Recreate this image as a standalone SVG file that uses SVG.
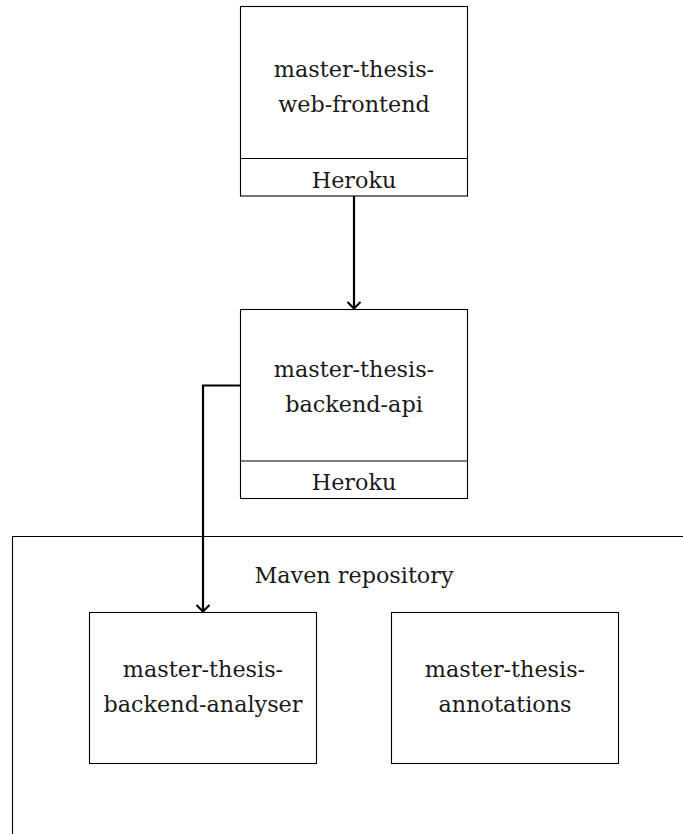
<svg xmlns="http://www.w3.org/2000/svg" width="683" height="834" viewBox="0 0 683 834">
<defs>
<style>
.box{fill:#fff;stroke:#000;stroke-width:1.1}
.t{font-family:"DejaVu Serif","Liberation Serif",serif;font-size:22.3px;fill:#1a1a1a;text-anchor:middle}
.conn{fill:none;stroke:#000;stroke-width:2.2}
</style>
<marker id="ah" markerUnits="userSpaceOnUse" markerWidth="18" markerHeight="18" refX="9" refY="9" orient="auto" viewBox="0 0 18 18">
<path d="M2.5,2.5 Q7,7 9,9 Q7,11 2.5,15.5" fill="none" stroke="#000" stroke-width="2.1"/>
</marker>
</defs>
<g id="maven-repository">
<path class="box" d="M700,536.5 H12.5 V850"/>
<text class="t" x="354" y="583">Maven repository</text>
</g>
<g id="web-frontend">
<rect class="box" x="240.5" y="6.5" width="227" height="189.5"/>
<line class="box" x1="240.5" y1="158.5" x2="467.5" y2="158.5"/>
<text class="t" x="354" y="76.7">master-thesis-</text>
<text class="t" x="354" y="111.7">web-frontend</text>
<text class="t" x="354" y="188">Heroku</text>
</g>
<g id="backend-api">
<rect class="box" x="240.5" y="309.5" width="227" height="189"/>
<line class="box" x1="240.5" y1="461" x2="467.5" y2="461"/>
<text class="t" x="354" y="377">master-thesis-</text>
<text class="t" x="354" y="412">backend-api</text>
<text class="t" x="354" y="490">Heroku</text>
</g>
<g id="backend-analyser">
<rect class="box" x="89.5" y="612.5" width="227" height="151"/>
<text class="t" x="203" y="677">master-thesis-</text>
<text class="t" x="203" y="712">backend-analyser</text>
</g>
<g id="annotations">
<rect class="box" x="391.5" y="612.5" width="227" height="151"/>
<text class="t" x="505" y="677">master-thesis-</text>
<text class="t" x="505" y="712">annotations</text>
</g>
<g id="connectors">
<path class="conn" d="M354,196 V308.5" marker-end="url(#ah)"/>
<path class="conn" d="M240.5,385.5 H203 V611.5" marker-end="url(#ah)"/>
</g>
</svg>
